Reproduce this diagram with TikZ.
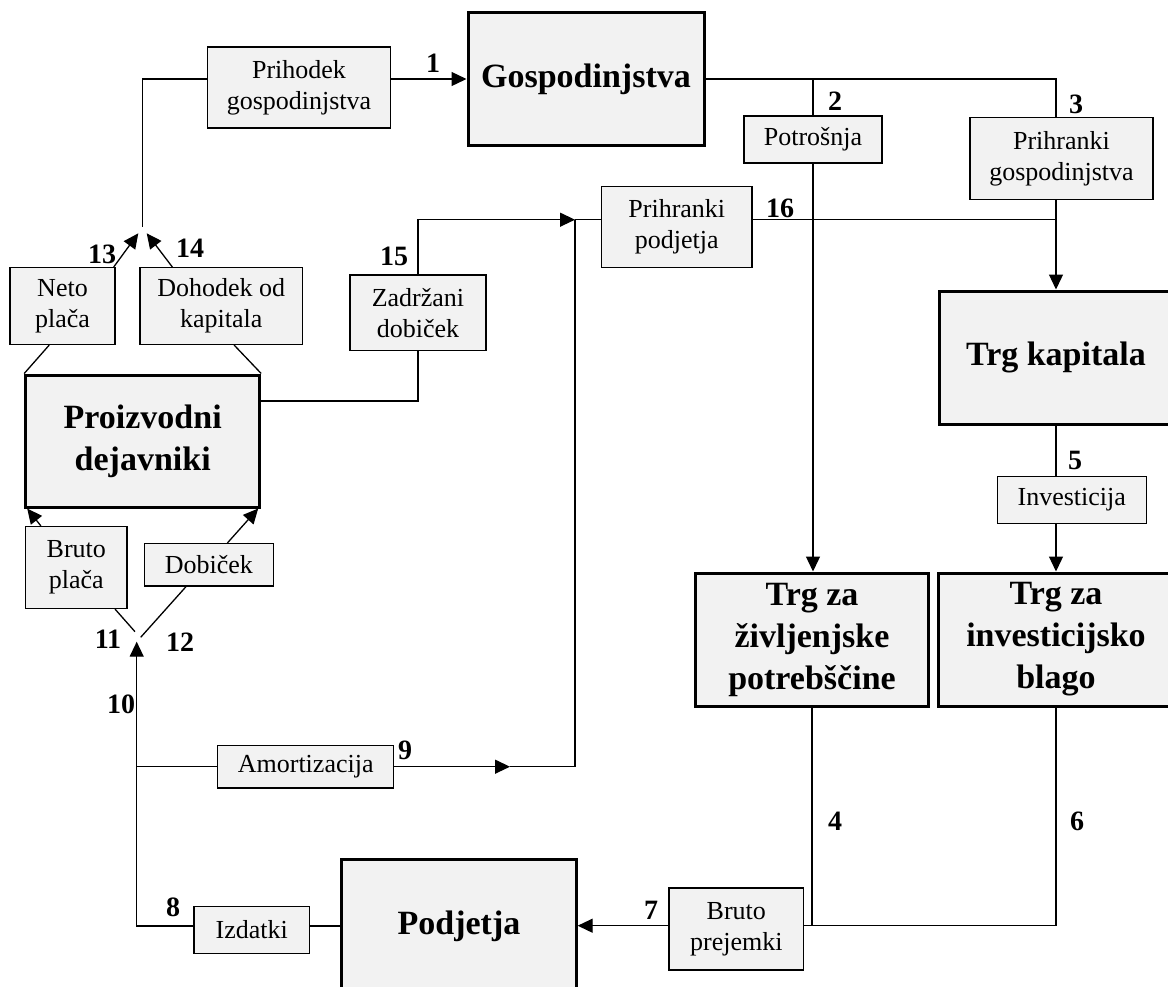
\documentclass[tikz,border=0pt]{standalone}
\usepackage{fontspec}
\setmainfont{Liberation Serif}
\usetikzlibrary{arrows.meta}
\definecolor{boxgray}{HTML}{F2F2F2}
\begin{document}
\begin{tikzpicture}[x=1pt,y=-1pt,
  sbox/.style={draw, fill=boxgray, line width=1.5pt, inner sep=0pt, align=center, font=\fontsize{26}{31}\selectfont},
  bbox/.style={draw, fill=boxgray, line width=3pt, inner sep=0pt, align=center, font=\fontsize{34}{42}\selectfont\bfseries},
  num/.style={font=\fontsize{28}{28}\selectfont\bfseries, inner sep=0pt},
  ln/.style={line width=1.3pt},
  arr/.style={line width=1.3pt, -{Triangle[length=15pt,width=14pt]}},
]
\useasboundingbox (0,0) rectangle (1168,986);
\clip (0,0) rectangle (1168,986);

% main boxes
\node[bbox, minimum width=236pt, minimum height=133pt] (gosp) at (586,79) {Gospodinjstva};
\node[bbox, minimum width=234pt, minimum height=133pt] (trgkap) at (1056,357.5) {Trg kapitala};
\node[bbox, minimum width=234pt, minimum height=132pt] (proizv) at (142.7,441) {Proizvodni\\dejavniki};
\node[bbox, minimum width=233.7pt, minimum height=133pt] (trgziv) at (812,639.5) {Trg za\\življenjske\\potrebščine};
\node[bbox, minimum width=236pt, minimum height=133pt] (trginv) at (1056,639.5) {Trg za\\investicijsko\\blago};
\node[bbox, minimum width=234.3pt, minimum height=133pt] (podj) at (459,926) {Podjetja};

% flow boxes
\node[sbox, minimum width=182.6pt, minimum height=81pt] (prihodek) at (299,87.5) {Prihodek\\gospodinjstva};
\node[sbox, minimum width=138pt, minimum height=47pt] (potr) at (813,139.3) {Potrošnja};
\node[sbox, minimum width=183pt, minimum height=81.6pt] (prihG) at (1061.5,158.5) {Prihranki\\gospodinjstva};
\node[sbox, minimum width=150.5pt, minimum height=81pt] (prihP) at (676.8,227.2) {Prihranki\\podjetja};
\node[sbox, minimum width=149pt, minimum height=47.4pt] (inv) at (1071.8,500) {Investicija};
\node[sbox, minimum width=105pt, minimum height=76.6pt] (neto) at (62.5,306) {Neto\\plača};
\node[sbox, minimum width=162.3pt, minimum height=76.6pt] (doh) at (221.2,306) {Dohodek od\\kapitala};
\node[sbox, minimum width=136pt, minimum height=75.7pt] (zadr) at (418,312.8) {Zadržani\\dobiček};
\node[sbox, minimum width=101.3pt, minimum height=81.6pt] (bplaca) at (76.3,567.5) {Bruto\\plača};
\node[sbox, minimum width=129pt, minimum height=42.3pt] (dob) at (208.8,564.8) {Dobiček};
\node[sbox, minimum width=176pt, minimum height=42.3pt] (amort) at (305.7,766.7) {Amortizacija};
\node[sbox, minimum width=115.3pt, minimum height=46.6pt] (izd) at (251.7,930) {Izdatki};
\node[sbox, minimum width=134.6pt, minimum height=82pt] (bprej) at (736.3,929) {Bruto\\prejemki};

% junction coordinates
\coordinate (j13top) at (142.7,226.7);
\coordinate (t13) at (138.3,233.3);
\coordinate (t14) at (146.7,233.3);
\coordinate (c2) at (813,79);
\coordinate (c3) at (1056,79);
\coordinate (c16) at (1056,219.7);
\coordinate (m) at (575,219.7);
\coordinate (a9) at (575,766.7);
\coordinate (t9) at (510,766.7);
\coordinate (y15) at (0,401);
\coordinate (c10) at (136.7,766.7);
\coordinate (t10) at (136.7,641.7);
\coordinate (e11) at (135,631.7);
\coordinate (e12) at (140.7,637.3);
\coordinate (b4) at (812,925.7);

% connectors
\draw[arr] (prihodek.east |- gosp.west) -- (gosp.west);
\draw[ln] (prihodek.west |- gosp.west) -| (j13top);
\draw[arr] ([xshift=-2pt]neto.north east) -- (t13);
\draw[arr] ([xshift=33pt]doh.north west) -- (t14);
\draw[ln] ([xshift=40pt]neto.south west) -- (proizv.north west);
\draw[ln] ([xshift=-69pt]doh.south east) -- (proizv.north east);

\draw[ln] (gosp.east) -- (c3) -- (c3 |- prihG.north);
\draw[ln] (c2) -- (potr.north);
\draw[arr] (potr.south) -- (potr.south |- trgziv.north);
\draw[arr] (prihG.south -| c3) -- (trgkap.north);
\draw[ln] (prihP.east |- c16) -- (c16);
\draw[arr] (zadr.north) |- (m);
\draw[ln] (m) -- (prihP.west |- m);
\draw[ln] (m) -- (a9);
\draw[arr] (amort.east) -- (t9);
\draw[ln] (t9) -- (a9);
\draw[ln] (zadr.south) |- (proizv.east |- y15);

\draw[arr] ([xshift=16pt]bplaca.north west) -- ([xshift=3pt]proizv.south west);
\draw[arr] ([xshift=-46.6pt]dob.north east) -- ([xshift=-3pt]proizv.south east);
\draw[ln] ([xshift=-12.7pt]bplaca.south east) -- (e11);
\draw[ln] ([xshift=42.4pt]dob.south west) -- (e12);
\draw[arr] (izd.west |- podj.west) -| (t10);
\draw[ln] (c10) -- (amort.west);
\draw[ln] (izd.east |- podj.west) -- (podj.west);

\draw[ln] (trgziv.south) -- (trgziv.south |- b4);
\draw[ln] (trginv.south) |- (b4);
\draw[ln] (b4) -- (bprej.east |- b4);
\draw[arr] (bprej.west |- b4) -- (podj.east |- b4);
\draw[ln] (trgkap.south) -- (trgkap.south |- inv.north);
\draw[arr] (trgkap.south |- inv.south) -- (trginv.north);

% numbers
\node[num] (n1) at (433,63) {1};
\node[num] (n2) at (835,101) {2};
\node[num] (n3) at (1076,104) {3};
\node[num] (n4) at (835,821) {4};
\node[num] (n5) at (1075,460) {5};
\node[num] (n6) at (1077,821) {6};
\node[num] (n7) at (651,910) {7};
\node[num] (n8) at (173,907) {8};
\node[num] (n9) at (405,750) {9};
\node[num] (n10) at (121,704) {10};
\node[num] (n11) at (108,639) {11};
\node[num] (n12) at (180,642) {12};
\node[num] (n13) at (102,254) {13};
\node[num] (n14) at (190,248) {14};
\node[num] (n15) at (394,256) {15};
\node[num] (n16) at (780,208) {16};
\end{tikzpicture}
\end{document}
